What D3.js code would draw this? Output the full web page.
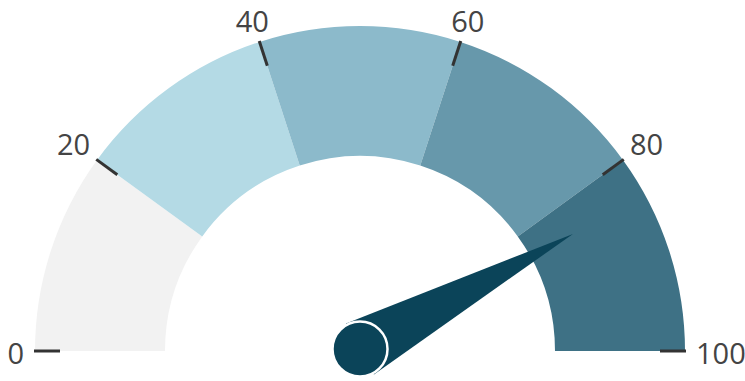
<!DOCTYPE html>
<html>
<head>
<meta charset="utf-8">
<script src="https://cdn.jsdelivr.net/npm/d3@7/dist/d3.min.js"></script>
<style>
html,body{margin:0;padding:0;background:#fff;}
svg{display:block;}
</style>
</head>
<body>
<svg id="chart" width="745" height="381"></svg>
<script>
// Data
const bandStarts = [0, 20, 40, 60, 80];
const bandEnds = [20, 40, 60, 80, 100];
const bandColors = ["#f2f2f2", "#b4dae5", "#8cbacb", "#6798ab", "#3e7185"];
const tickValues = [0, 20, 40, 60, 80, 100];
const tickLabels = ["0", "20", "40", "60", "80", "100"];
const needleValue = 84;

const W = 745, H = 381;
const cx = 360, cy = 351;
const outerR = 325, innerR = 195;

const svg = d3.select("#chart");
const g = svg.append("g").attr("transform", `translate(${cx},${cy})`);

// angle scale: d3.arc uses angle 0 at 12 o'clock, clockwise
const angle = d3.scaleLinear().domain([0, 100]).range([-Math.PI / 2, Math.PI / 2]);

const arc = d3.arc().innerRadius(innerR).outerRadius(outerR);

g.selectAll("path.band")
  .data(bandStarts.map((s, i) => ({ s, e: bandEnds[i], c: bandColors[i] })))
  .join("path")
  .attr("class", "band")
  .attr("d", d => arc({ startAngle: angle(d.s), endAngle: angle(d.e) }))
  .attr("fill", d => d.c);

// ticks
const pt = (v, r) => {
  const a = angle(v);
  return [r * Math.sin(a), -r * Math.cos(a)];
};
g.selectAll("line.tick")
  .data(tickValues)
  .join("line")
  .attr("class", "tick")
  .attr("x1", d => pt(d, 300)[0])
  .attr("y1", d => pt(d, 300)[1])
  .attr("x2", d => pt(d, 326)[0])
  .attr("y2", d => pt(d, 326)[1])
  .attr("stroke", "#333")
  .attr("stroke-width", 3);

// labels
const lbl = g.selectAll("text.lbl")
  .data(tickValues.map((v, i) => ({ v, t: tickLabels[i] })))
  .join("text")
  .attr("class", "lbl")
  .attr("font-family", "'Open Sans', 'Noto Sans', sans-serif")
  .attr("font-size", 29)
  .attr("fill", "#444")
  .attr("text-anchor", "middle")
  .attr("dominant-baseline", "central")
  .text(d => d.t);

lbl.each(function(d) {
  const bb = this.getBBox();
  const a = angle(d.v);
  const s = Math.abs(Math.sin(a)), c = Math.abs(Math.cos(a));
  const r = 336 + (bb.width / 2) * s + 8 * c;
  const p = pt(d.v, r);
  d3.select(this).attr("x", p[0]).attr("y", p[1] + 1);
});

// needle
const nLen = 243, nHalf = 29;
const a = angle(needleValue);
const ux = Math.sin(a), uy = -Math.cos(a);
const nx = -uy, ny = ux;
const needlePts = [
  [nHalf * nx, nHalf * ny - 2],
  [nLen * ux, nLen * uy],
  [-nHalf * nx, -nHalf * ny - 2]
];
g.append("path")
  .attr("d", d3.line()(needlePts) + "Z")
  .attr("fill", "#0b4459");

g.append("circle")
  .attr("cx", 0).attr("cy", -2)
  .attr("r", 27.5)
  .attr("fill", "#0b4459")
  .attr("stroke", "#fff")
  .attr("stroke-width", 2.5);
</script>
</body>
</html>
